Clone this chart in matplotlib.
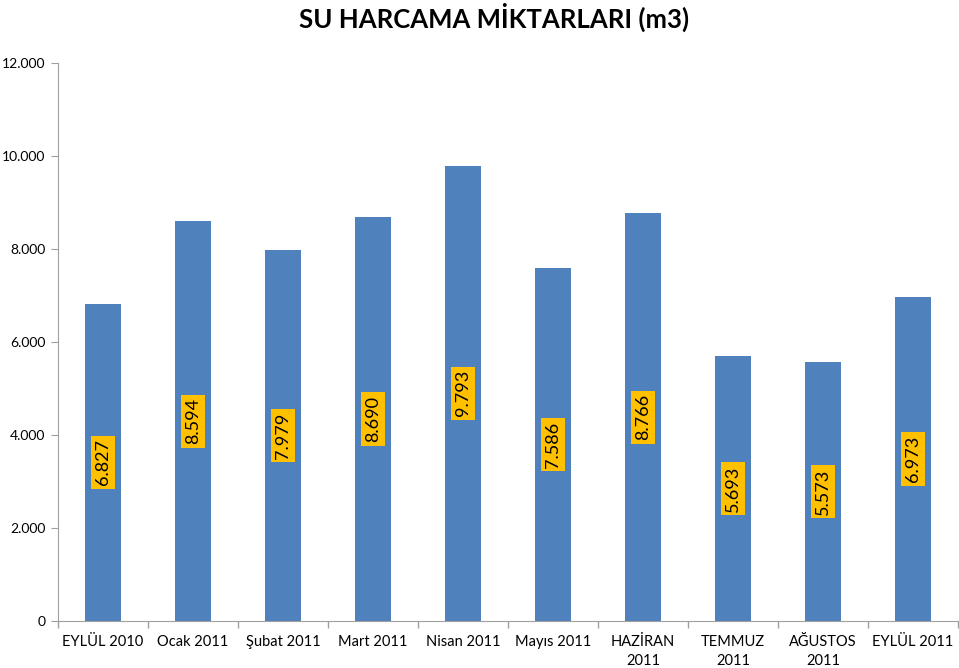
import matplotlib
matplotlib.use("Agg")
import matplotlib.pyplot as plt
from matplotlib.ticker import FuncFormatter, FixedLocator

categories = ["EYLÜL 2010", "Ocak 2011", "Şubat 2011", "Mart 2011", "Nisan 2011",
              "Mayıs 2011", "HAZİRAN\n2011", "TEMMUZ\n2011", "AĞUSTOS\n2011", "EYLÜL 2011"]
values = [6827, 8594, 7979, 8690, 9793, 7586, 8766, 5693, 5573, 6973]
value_labels = ["6.827", "8.594", "7.979", "8.690", "9.793", "7.586", "8.766", "5.693", "5.573", "6.973"]
y_ticks = [0, 2000, 4000, 6000, 8000, 10000, 12000]

plt.rcParams['font.family'] = ['Lato', 'DejaVu Sans']

fig = plt.figure(figsize=(9.59, 6.68), dpi=100)
ax = fig.add_axes([58/959, 1-621/668, 900/959, (621-63)/668])

x = list(range(len(categories)))
ax.bar(x, values, width=0.4, color="#4F81BD", zorder=2)
for xi, v, lab in zip(x, values, value_labels):
    ax.text(xi, v/2, lab, rotation=90, ha="center", va="center", fontsize=13,
            color="black", zorder=3,
            bbox=dict(boxstyle="square,pad=0.2", fc="#FFC000", ec="none"))

ax.set_xlim(-0.5, len(categories)-0.5)
ax.set_ylim(0, 12000)
ax.yaxis.set_major_locator(FixedLocator(y_ticks))
ax.yaxis.set_major_formatter(FuncFormatter(lambda v, p: "0" if v == 0 else f"{int(v):,}".replace(",", ".")))
ax.set_xticks(x)
ax.set_xticklabels(categories, fontsize=10.5, linespacing=1.45)
ax.tick_params(axis="x", length=0, pad=10)
ax.set_xticks([i - 0.5 for i in range(len(categories)+1)], minor=True)
ax.tick_params(axis="x", which="minor", length=5, color="#A0A0A0", width=1)
ax.tick_params(axis="y", length=5, color="#A0A0A0", labelsize=10, pad=4)

for s in ["top", "right"]:
    ax.spines[s].set_visible(False)
for s in ["left", "bottom"]:
    ax.spines[s].set_color("#A0A0A0")

fig.text(494/959, 1-17/668, "SU HARCAMA MİKTARLARI (m3)", ha="center", va="center",
         fontsize=18.5, fontweight="bold")

fig.savefig("out.png", dpi=100)
